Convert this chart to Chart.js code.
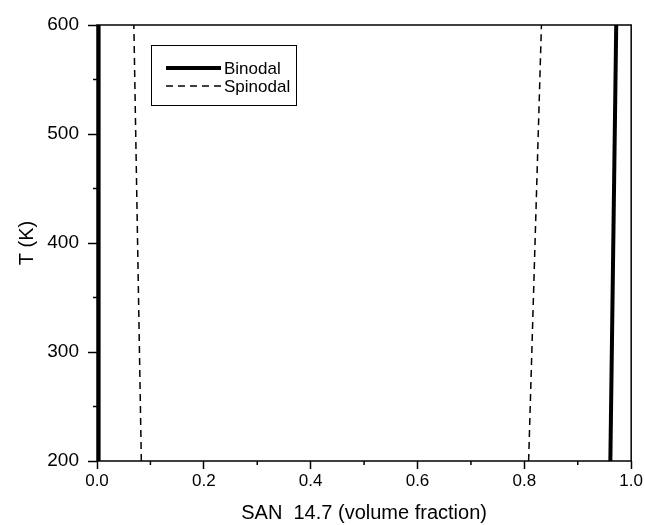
<!DOCTYPE html>
<html>
<head>
<meta charset="utf-8">
<script src="https://cdn.jsdelivr.net/npm/chart.js@4"></script>
<style>
  html, body { margin: 0; padding: 0; background: #fff; }
  #wrap { width: 645px; height: 525px; }
</style>
</head>
<body>
<div id="wrap"><canvas id="myChart"></canvas></div>
<script>
// data
const tempK = [200, 600];
const binodalLeft = [0.003, 0.003];
const binodalRight = [0.961, 0.972];
const spinodalLeft = [0.083, 0.069];
const spinodalRight = [0.808, 0.832];
const xTicks = [0, 0.2, 0.4, 0.6, 0.8, 1.0];
const yTicks = [200, 300, 400, 500, 600];
const xMinor = [0.1, 0.3, 0.5, 0.7, 0.9];
const yMinor = [250, 350, 450, 550];

function pts(xs) {
  return xs.map((x, i) => ({ x: x, y: tempK[i] }));
}

const binodalStyle = { borderColor: "#000", borderWidth: 4, showLine: true, pointRadius: 0 };
const spinodalStyle = { borderColor: "#000", borderWidth: 1.5, borderDash: [7, 5], showLine: true, pointRadius: 0 };

// frame, minor ticks and the boxed legend
const framePlugin = {
  id: "frame",
  afterDraw(chart) {
    const c = chart.ctx;
    const a = chart.chartArea;
    const xs = chart.scales.x;
    const ys = chart.scales.y;
    c.save();
    c.strokeStyle = "#000";
    c.lineWidth = 1.5;
    c.strokeRect(a.left, a.top, a.right - a.left, a.bottom - a.top);
    c.beginPath();
    xMinor.forEach((v) => {
      const px = xs.getPixelForValue(v);
      c.moveTo(px, a.bottom);
      c.lineTo(px, a.bottom + 4);
    });
    yMinor.forEach((v) => {
      const py = ys.getPixelForValue(v);
      c.moveTo(a.left, py);
      c.lineTo(a.left - 4, py);
    });
    c.stroke();

    // legend
    c.lineWidth = 1;
    c.strokeRect(151.5, 45.5, 145, 60);
    c.font = "17px 'Liberation Sans', Arial, sans-serif";
    c.fillStyle = "#000";
    c.textBaseline = "middle";
    const items = [
      { label: "Binodal", width: 4, dash: [] },
      { label: "Spinodal", width: 1.5, dash: [7, 5] },
    ];
    items.forEach((it, i) => {
      const y = 68 + i * 18;
      c.beginPath();
      c.lineWidth = it.width;
      c.setLineDash(it.dash);
      c.moveTo(166, y);
      c.lineTo(221, y);
      c.stroke();
      c.setLineDash([]);
      c.fillText(it.label, 224, y + 1);
    });
    c.restore();
  },
};

const ctx = document.getElementById("myChart");

new Chart(ctx, {
  type: "scatter",
  data: {
    datasets: [
      { label: "Binodal", data: pts(binodalLeft), ...binodalStyle },
      { label: "Binodal", data: pts(binodalRight), ...binodalStyle },
      { label: "Spinodal", data: pts(spinodalLeft), ...spinodalStyle },
      { label: "Spinodal", data: pts(spinodalRight), ...spinodalStyle },
    ],
  },
  options: {
    responsive: true,
    maintainAspectRatio: false,
    animation: false,
    layout: {
      autoPadding: false,
      padding: { top: 25, right: 12, left: 0, bottom: 0 },
    },
    plugins: {
      legend: { display: false },
      tooltip: { enabled: false },
    },
    scales: {
      x: {
        type: "linear",
        min: 0,
        max: 1,
        afterFit(scale) {
          scale.height = 64;
        },
        afterBuildTicks(scale) {
          scale.ticks = xTicks.map((v) => ({ value: v }));
        },
        ticks: {
          color: "#000",
          padding: 2,
          maxRotation: 0,
          font: { family: "'Liberation Sans', Arial, sans-serif", size: 17 },
          callback(value) {
            return value.toFixed(1);
          },
        },
        grid: {
          drawOnChartArea: false,
          drawTicks: true,
          tickLength: 8,
          tickWidth: 1.5,
          tickColor: "#000",
        },
        border: { display: false },
        title: {
          display: true,
          text: "SAN  14.7 (volume fraction)",
          color: "#000",
          padding: { top: 4, bottom: 0 },
          font: { family: "'Liberation Sans', Arial, sans-serif", size: 20 },
        },
      },
      y: {
        type: "linear",
        min: 200,
        max: 600,
        afterFit(scale) {
          scale.width = 97;
        },
        afterBuildTicks(scale) {
          scale.ticks = yTicks.map((v) => ({ value: v }));
        },
        ticks: {
          color: "#000",
          padding: 9,
          font: { family: "'Liberation Sans', Arial, sans-serif", size: 19 },
        },
        grid: {
          drawOnChartArea: false,
          drawTicks: true,
          tickLength: 9,
          tickWidth: 1.5,
          tickColor: "#000",
        },
        border: { display: false },
        title: {
          display: true,
          text: "T (K)",
          color: "#000",
          padding: { top: 15, bottom: 0 },
          font: { family: "'Liberation Sans', Arial, sans-serif", size: 20 },
        },
      },
    },
  },
  plugins: [framePlugin],
});
</script>
</body>
</html>
